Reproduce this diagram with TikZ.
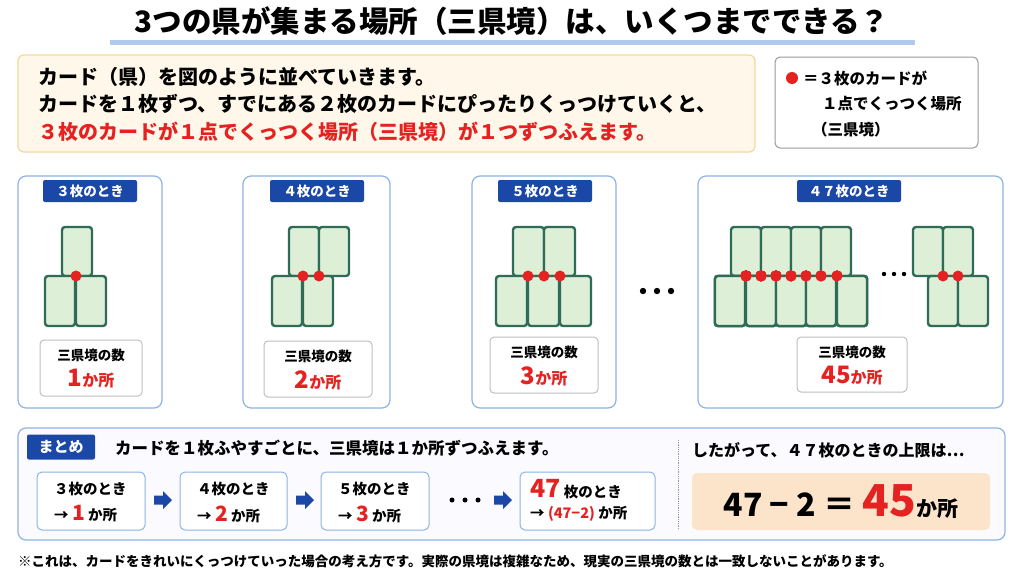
\documentclass[tikz,border=0pt]{standalone}
\usepackage{fontspec}
\setmainfont{Noto Sans CJK JP}
\definecolor{navy}{HTML}{1B47A6}
\definecolor{pblue}{HTML}{8DB3E6}
\definecolor{cardf}{HTML}{DDEFD7}
\definecolor{cardb}{HTML}{2F6B57}
\definecolor{kred}{HTML}{E52222}
\definecolor{cream}{HTML}{FFF8EA}
\definecolor{creamb}{HTML}{F3D89E}
\definecolor{peach}{HTML}{FCE4CA}
\tikzset{
 card/.style={draw=cardb,fill=cardf,line width=2.4pt,rounded corners=3pt},
 tdot/.style={fill=kred,draw=none},
 panel/.style={draw=pblue,line width=1.2pt,rounded corners=8pt,fill=white},
 tag/.style={fill=navy,rounded corners=2pt,text=white,font=\bfseries\fontsize{13.5}{14}\selectfont,inner sep=0pt,minimum height=22pt},
 cbox/.style={draw=black!25,line width=1pt,rounded corners=4pt,fill=white},
 sbox/.style={draw=pblue,line width=1pt,rounded corners=5pt,fill=white},
 txt/.style={inner sep=0pt,anchor=west},
}
\newcommand{\crd}[4]{\draw[card] (#1,#2) rectangle (#3,#4);}
\newcommand{\barrow}[2]{\coordinate (#2) at (#1,500);
 \fill[navy] ([shift={(-9,-4.5)}]#2) -- ([shift={(0,-4.5)}]#2) -- ([shift={(0,-9)}]#2) -- ([shift={(9,0)}]#2) -- ([shift={(0,9)}]#2) -- ([shift={(0,4.5)}]#2) -- ([shift={(-9,4.5)}]#2) -- cycle;}
\begin{document}
\begin{tikzpicture}[x=1pt,y=-1pt]
\useasboundingbox (0,0) rectangle (1024,576);
\fill[white] (0,0) rectangle (1024,576);
% title
\fill[pblue!70] (110,40) rectangle (915,45);
\node[font=\bfseries\fontsize{29.5}{32}\selectfont] (title) at (512,21) {3つの県が集まる場所（三県境）は、いくつまでできる？};
% intro
\draw[draw=creamb,fill=cream,line width=1.2pt,rounded corners=6pt] (18,55) rectangle (755,152);
\node[txt,font=\bfseries\fontsize{20}{20}\selectfont] (l1) at (38,77) {カード（県）を図のように並べていきます。};
\node[txt,font=\bfseries\fontsize{20}{20}\selectfont] (l2) at (38,104) {カードを１枚ずつ、すでにある２枚のカードにぴったりくっつけていくと、};
\node[txt,font=\bfseries\fontsize{20}{20}\selectfont,text=kred] (l3) at (38,132) {３枚のカードが１点でくっつく場所（三県境）が１つずつふえます。};
% legend
\draw[draw=black!40,line width=1pt,rounded corners=5pt] (775,57) rectangle (978,148);
\fill[kred] (792,78) circle (6);
\node[txt,font=\bfseries\fontsize{15.5}{16}\selectfont] (g1) at (803,78) {＝３枚のカードが};
\node[txt,font=\bfseries\fontsize{15.5}{16}\selectfont] (g2) at (822,104) {１点でくっつく場所};
\node[txt,font=\bfseries\fontsize{15.5}{16}\selectfont] (g3) at (812,130) {（三県境）};
% panels
\draw[panel] (18,176) rectangle (162,408);
\draw[panel] (243,176) rectangle (390,408);
\draw[panel] (472,176) rectangle (616,408);
\draw[panel] (698,176) rectangle (1003,408);
\node[tag,minimum width=94pt] (t1) at (90,191) {３枚のとき};
\node[tag,minimum width=94pt] (t2) at (317,191) {４枚のとき};
\node[tag,minimum width=94pt] (t3) at (545,191) {５枚のとき};
\node[tag,minimum width=104pt] (t4) at (849,191) {４７枚のとき};
% cards panel1
\crd{62}{227}{92}{276}\crd{45}{276}{75}{326}\crd{76}{276}{106}{326}
\fill[tdot] (76,276) circle (5.5);
% panel2
\crd{289}{227}{319}{276}\crd{319}{227}{349}{276}\crd{272}{276}{302}{326}\crd{303}{276}{333}{326}
\foreach \x in {303,319} \fill[tdot] (\x,276) circle (5.5);
% panel3
\crd{513}{227}{544}{276}\crd{544}{227}{575}{276}
\crd{496}{276}{527}{326}\crd{528}{276}{559}{326}\crd{560}{276}{591}{326}
\foreach \x in {528,544,560} \fill[tdot] (\x,276) circle (5.5);
% panel4
\foreach \a in {731,761,791,821} \crd{\a}{227}{\a+30}{276}
\foreach \a in {715,746,776,806,837} \crd{\a}{276}{\a+30}{326}
\foreach \x in {746,761,776,791,806,821,837} \fill[tdot] (\x,276) circle (5.5);
\crd{913}{227}{943}{276}\crd{943}{227}{973}{276}
\crd{928}{276}{958}{326}\crd{958}{276}{988}{326}
\foreach \x in {943,958} \fill[tdot] (\x,276) circle (5.5);
\foreach \x in {884,894,904} \fill (\x,274) circle (2.2);
% big ellipsis
\foreach \x in {643,657,671} \fill (\x,291) circle (3.2);
% count boxes
\newcommand{\cnt}[5]{\draw[cbox] (#1,#2) rectangle (#3,#4);
 \node[font=\bfseries\fontsize{13.5}{14}\selectfont] at ({(#1+#3)/2},{#2+15}) {三県境の数};
 \node[font=\bfseries\fontsize{16}{16}\selectfont,text=kred] at ({(#1+#3)/2},{#2+39}) {{\fontsize{24}{24}\selectfont #5}か所};}
\cnt{40}{340}{142}{396}{1}
\cnt{264}{341}{372}{397}{2}
\cnt{490}{337}{598}{393}{3}
\cnt{797}{337}{907}{392}{45}
% summary
\draw[draw=pblue,fill=blue!2,line width=1.2pt,rounded corners=8pt] (18,428) rectangle (1005,540);
\node[tag,minimum width=68pt,minimum height=25pt,font=\bfseries\fontsize{15}{16}\selectfont] (mt) at (61,447) {まとめ};
\node[txt,font=\bfseries\fontsize{16.5}{17}\selectfont] (st) at (115,448) {カードを１枚ふやすごとに、三県境は１か所ずつふえます。};
\draw[black!40,densely dotted,line width=0.8pt] (678,440) -- (678,530);
\newcommand{\stp}[6]{\draw[sbox] (#1,472) rectangle (#2,530);
 \node[txt,font=\bfseries\fontsize{14.5}{15}\selectfont] (#6a) at (#3,489) {#4};
 \node[txt,font=\bfseries\fontsize{14.5}{15}\selectfont] (#6b) at (#3,514) {#5};}
\stp{37}{145}{54}{３枚のとき}{→ {\color{kred}\fontsize{21}{20}\selectfont 1} か所}{s1}
\stp{180}{287}{197}{４枚のとき}{→ {\color{kred}\fontsize{21}{20}\selectfont 2} か所}{s2}
\stp{321}{429}{338}{５枚のとき}{→ {\color{kred}\fontsize{21}{20}\selectfont 3} か所}{s3}
\stp{520}{655}{530}{{\color{kred}\fontsize{25}{22}\selectfont 47} 枚のとき}{→ {\color{kred}(47−2)} か所}{s4}
\barrow{163}{a1}
\barrow{305}{a2}
\barrow{503}{a3}
\foreach \x in {452,465,478} \fill (\x,500) circle (2.5);
\node[txt,font=\bfseries\fontsize{16}{16}\selectfont] (rt) at (692,450) {したがって、４７枚のときの上限は…};
\fill[peach] (692,473) [rounded corners=5pt] rectangle (990,530);
\node[font=\bfseries\fontsize{32}{32}\selectfont] (res) at (841,502) {47 − 2 ＝ {\color{kred}\fontsize{44}{44}\selectfont 45}{\fontsize{21}{22}\selectfont か所}};
% footnote
\node[txt,font=\bfseries\fontsize{13.5}{14}\selectfont] (fn) at (18,561) {※これは、カードをきれいにくっつけていった場合の考え方です。実際の県境は複雑なため、現実の三県境の数とは一致しないことがあります。};
\end{tikzpicture}
\end{document}
